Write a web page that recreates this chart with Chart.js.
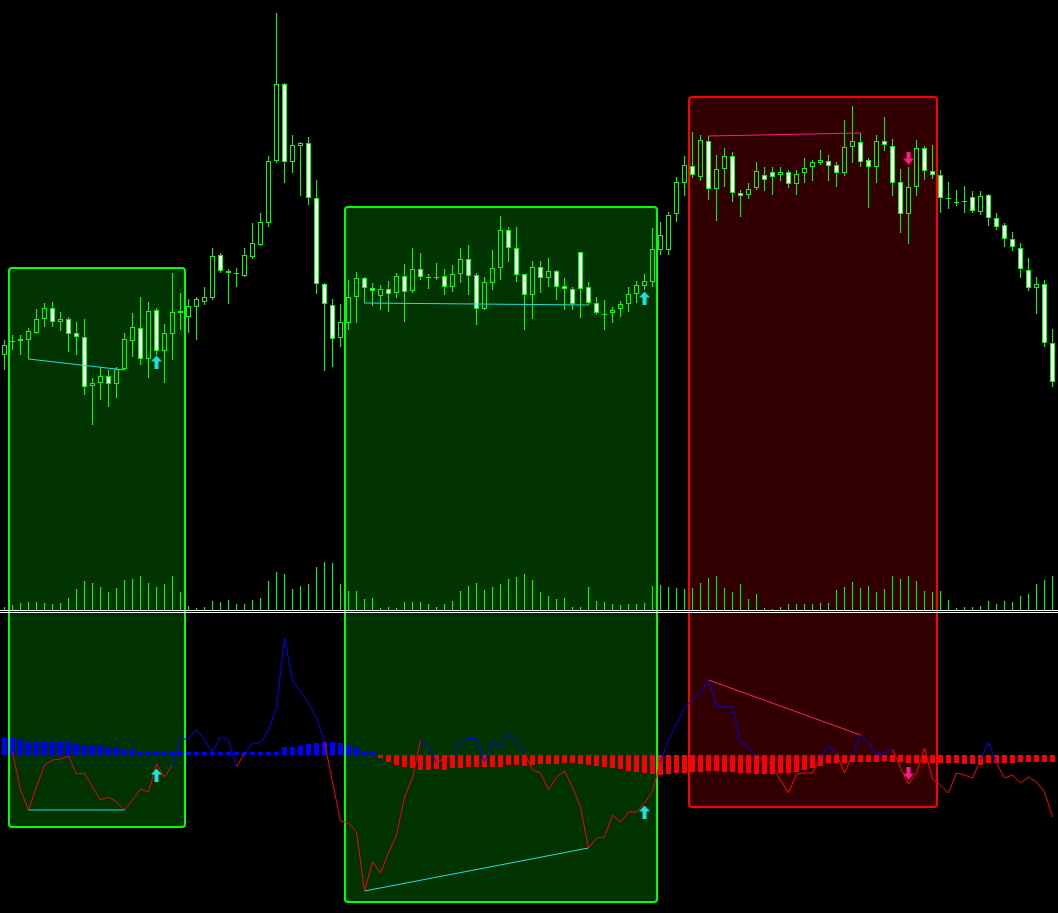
<!DOCTYPE html>
<html>
<head>
<meta charset="utf-8">
<script src="https://cdn.jsdelivr.net/npm/chart.js@4.4.0/dist/chart.umd.min.js"></script>
<style>
  html, body { margin: 0; padding: 0; background: #000; overflow: hidden; }
  #wrap { width: 1058px; height: 913px; }
</style>
</head>
<body>
<div id="wrap"><canvas id="chart" width="1058" height="913"></canvas></div>
<script>
// candles (price in points)
const open = [645,658,659,660,667,681,692,678,681,667, 663,614,617,624,616,631,659,672,641,690,
  649,666,687,683,693,698,702,745,729,727, 724,743,755,777,839,916,838,854,857,802,
  716,695,662,677,703,722,712,704,711,707, 724,709,731,723,723,724,713,726,741,725,
  691,717,732,770,752,726,705,733,722,729, 714,711,748,713,697,686,687,691,696,706,
  714,718,750,750,786,817,834,823,859,811, 831,844,807,805,812,825,828,825,828,816,
  827,833,837,839,835,827,853,858,840,833, 859,854,818,786,813,852,829,825,802,798,
  799,803,788,805,782,775,761,752,730,712, 716,657];
const high = [660,665,665,672,691,697,698,688,683,678, 681,622,633,630,633,667,687,703,698,692,
  676,727,707,701,703,713,752,747,731,732, 752,777,787,844,987,917,865,858,863,820,
  717,701,696,720,728,723,717,715,719,727, 736,752,747,726,737,731,735,752,755,727,
  723,750,784,773,773,726,739,739,742,730, 722,713,748,718,703,700,693,699,713,719,
  726,772,778,788,823,844,868,865,864,845, 852,848,810,817,838,833,833,833,830,830,
  842,840,850,845,838,880,894,867,842,865, 883,861,831,833,860,854,855,830,818,810,
  814,809,809,806,787,777,768,757,742,723, 720,671];
const low = [630,650,645,641,666,673,673,669,648,645, 605,575,600,593,602,630,643,635,622,645,
  617,640,670,667,660,695,700,727,696,713, 723,741,754,773,837,817,827,804,795,706,
  629,633,653,670,677,697,694,690,688,702, 678,707,720,711,720,705,708,717,705,675,
  690,710,720,738,718,670,681,707,713,700, 690,690,682,695,685,670,677,683,688,697,
  710,713,745,745,778,804,822,819,800,779, 813,798,783,801,810,809,805,819,812,805,
  817,819,835,819,813,824,837,833,792,817, 849,804,767,756,804,820,821,787,791,794,
  787,787,785,774,770,753,749,722,709,686, 653,613];
const close = [655,659,661,669,681,692,678,681,666,663, 613,617,624,616,631,661,673,641,689,649,
  667,688,689,694,701,703,744,729,727,726.5, 745,757,778,839,916,838,855,857,802,716,
  696,661,678,703,722,712,709,711,706,724, 708,731,723,722.5,722.5,713,726,741,724,691,
  718,732,770,752,725,705,733,722,729,713, 711,696,711,697,687,685.5,690,696,706,715,
  719,751,765,785,818,835,825,860,811,831, 844,807,804,811,829,820,823,828,816,826,
  832,838,840,834,827,853,859,838,833,859, 855,817,786,813,852,829,825,802,801.5,797.5,
  798.5,789,804,782,773,761,753,731,712,716, 657,618];

const volume = [3,5,7,8,8,7,6,7,12,21, 29,27,23,18,22,30,31,34,27,23, 26,34,18,4,2,3,9,8,10,6,
  6,10,12,29,38,36,21,24,26,43, 48,47,26,19,19,11,12,2,3,2, 8,8,8,6,3,6,9,19,24,27,
  20,23,26,31,33,36,30,18,14,11, 12,3,3,23,9,8,6,5,6,6, 7,24,25,23,22,21,22,27,32,34,
  22,18,26,11,16,2,1,3,6,6, 6,6,7,7,20,23,28,22,24,18, 21,34,31,34,29,19,18,19,10,2,
  3,3,4,9,6,9,8,14,16,26, 30,34];

// oscillator line and its histogram
const osc = [null,3,-35,-55,-32,-10,-5,-4,-1,-19, -18,-32,-45,-42,-47,-55,-45,-34,-37,-9,
  -22,-10,16,16,26,15,3,18,15,-12, 2,12,12,25,47,117,75,63,52,37,
  13,-27,-66,-68,-77,-136,-107,-118,-98,-80, -42,-23,15,8,-8,-3,0,12,17,16,
  -7,13,8,22,12,2,-15,-18,-35,-22, -16,-32,-52,-93,-83,-82,-60,-67,-57,-57,
  -48,-36,-7,15,31,47,55,62,75,48, 48,48,13,8,-2,-4,-12,-25,-38,-19,
  -18,-18,-2,9,2,-18,0,20,13,0, 2,6,-13,-29,-18,7,-24,-30,-38,-18,
  -20,-23,-5,13,-8,-23,-20,-28,-22,-27, -37,-62];
const hist = [17,17,16,14,14,14,14,14,14,12, 10,10,9,8,8,6,5,3,3,3, 3,3,3,3,3,3,3,3,3,3,
  3,3,3,3,3,8,8,9,11,12, 13,13,12,10,8,4,3,-3,-7,-10, -12,-13,-15,-15,-14,-15,-13,-13,-12,-12,
  -12,-12,-12,-10,-10,-11,-10,-9,-9,-9, -8,-8,-9,-10,-11,-12,-13,-14,-16,-17,
  -18,-19,-20,-19,-18,-18,-17,-17,-16,-16, -17,-17,-18,-18,-19,-19,-19,-18,-18,-17,
  -15,-13,-11,-8,-8,-8,-7,-7,-7,-7, -6,-7,-7,-8,-8,-8,-8,-8,-8,-8,
  -9,-9,-10,-8,-8,-8,-8,-7,-7,-7, -7,-7];

// divergence zones
const boxFrom = [0.5, 42.5, 85.5];
const boxTo = [22.5, 81.5, 116.5];
const boxTop = [732, 793, 903];
const boxBottom = [-72, -147, -52];
const boxSide = ["buy", "buy", "sell"];

// divergence lines: price + oscillator
const divFrom = [3, 45, 88];
const divTo = [15, 73, 107];
const divPriceFrom = [641, 697, 864];
const divPriceTo = [630, 695, 867];
const divOscFrom = [-55, -136, 75];
const divOscTo = [-55, -93, 20];
const divSide = ["buy", "buy", "sell"];

// signal arrows
const upIdx = [19, 80];
const upPrice = [638, 702];
const upOsc = [-20, -57];
const downIdx = [113];
const downPrice = [842];
const downOsc = [-18];

const LIME = "#00ff00";
const BUY_COLOR = "#1fe0e0";
const SELL_COLOR = "#ff1a8c";

const labels = open.map((_, i) => i);
const isDoji = (i) => Math.abs(open[i] - close[i]) < 1;
const bodies = open.map((o, i) => (isDoji(i) ? [o, o - 1] : [o, close[i]]));
const upperWicks = open.map((o, i) => [Math.max(o, close[i]), high[i]]);
const lowerWicks = open.map((o, i) => [low[i], Math.min(o, close[i])]);
const bodyFill = open.map((o, i) => {
  if (isDoji(i)) return LIME;
  return close[i] < o ? "#ffffff" : "rgba(0,0,0,0)";
});

function makeArrow(color, down) {
  const c = document.createElement("canvas");
  c.width = 11;
  c.height = 13;
  const g = c.getContext("2d");
  const pts = [[5.5, 0], [11, 6], [7.5, 6], [7.5, 13], [3.5, 13], [3.5, 6], [0, 6]];
  g.fillStyle = color;
  g.beginPath();
  pts.forEach(([px, py], k) => {
    const yy = down ? 13 - py : py;
    if (k) g.lineTo(px, yy); else g.moveTo(px, yy);
  });
  g.closePath();
  g.fill();
  return c;
}
const upArrow = makeArrow(BUY_COLOR, false);
const downArrow = makeArrow(SELL_COLOR, true);

const panelPlugin = {
  id: "panels",
  beforeDatasetsDraw(chart) {
    const { ctx, scales } = chart;
    ctx.save();
    boxFrom.forEach((from, i) => {
      const left = Math.round(scales.x.getPixelForValue(from));
      const right = Math.round(scales.x.getPixelForValue(boxTo[i]));
      const top = Math.round(scales.yP.getPixelForValue(boxTop[i]));
      const bottom = Math.round(scales.yO.getPixelForValue(boxBottom[i]));
      const sell = boxSide[i] === "sell";
      ctx.beginPath();
      ctx.roundRect(left, top, right - left, bottom - top, 3);
      ctx.fillStyle = sell ? "#330000" : "#003300";
      ctx.fill();
      ctx.lineWidth = 2;
      ctx.strokeStyle = sell ? "#ff0000" : LIME;
      ctx.stroke();
    });
    const base = Math.round(scales.yV.getPixelForValue(0));
    ctx.fillStyle = "#ffffff";
    ctx.fillRect(0, base, chart.width, 1);
    ctx.fillRect(0, base + 2, chart.width, 1);
    ctx.restore();
  },
};

const divSets = [];
divFrom.forEach((from, i) => {
  const color = divSide[i] === "sell" ? SELL_COLOR : BUY_COLOR;
  divSets.push({
    type: "line", yAxisID: "yP", order: 1, borderColor: color, borderWidth: 1, pointRadius: 0,
    data: [{ x: from, y: divPriceFrom[i] }, { x: divTo[i], y: divPriceTo[i] }],
  });
  divSets.push({
    type: "line", yAxisID: "yO", order: 1, borderColor: color, borderWidth: 1, pointRadius: 0,
    data: [{ x: from, y: divOscFrom[i] }, { x: divTo[i], y: divOscTo[i] }],
  });
});

const arrowSet = (idx, vals, axis, img) => ({
  type: "line", yAxisID: axis, order: 0, showLine: false, pointStyle: img, pointRadius: 6,
  data: idx.map((x, k) => ({ x, y: vals[k] })),
});

const barBase = { type: "bar", grouped: false, inflateAmount: 0, borderWidth: 0 };

new Chart(document.getElementById("chart"), {
  data: {
    labels,
    datasets: [
      arrowSet(upIdx, upPrice, "yP", upArrow),
      arrowSet(upIdx, upOsc, "yO", upArrow),
      arrowSet(downIdx, downPrice, "yP", downArrow),
      arrowSet(downIdx, downOsc, "yO", downArrow),
      ...divSets,
      {
        type: "line", yAxisID: "yO", order: 2, data: osc, borderWidth: 1, pointRadius: 0,
        borderColor: "#0000ff",
        segment: {
          borderColor: (c) => ((c.p0.parsed.y + c.p1.parsed.y) / 2 >= 0 ? "#0000ff" : "#ff0000"),
        },
      },
      { ...barBase, yAxisID: "yP", order: 3, data: bodies, barThickness: 5,
        backgroundColor: bodyFill, borderColor: LIME, borderWidth: 1, borderSkipped: false },
      { ...barBase, yAxisID: "yP", order: 4, data: upperWicks, barThickness: 1, backgroundColor: LIME },
      { ...barBase, yAxisID: "yP", order: 4, data: lowerWicks, barThickness: 1, backgroundColor: LIME },
      { ...barBase, yAxisID: "yO", order: 5, data: hist, barThickness: 5,
        backgroundColor: hist.map((v) => (v > 0 ? "#0000ff" : "#ff0000")) },
      { ...barBase, yAxisID: "yV", order: 6, data: volume, barThickness: 1, backgroundColor: LIME },
    ],
  },
  options: {
    responsive: false,
    animation: false,
    events: [],
    layout: { autoPadding: false, padding: { left: 0.5, right: 1.5, top: 0, bottom: 0 } },
    plugins: { legend: { display: false }, tooltip: { enabled: false } },
    scales: {
      x: { type: "linear", min: -0.5, max: 131.5, offset: false, display: false },
      yP: { min: 87, max: 1000, display: false },
      yV: { min: -303, max: 610, display: false },
      yO: { min: -158, max: 755, display: false },
    },
  },
  plugins: [panelPlugin],
});
</script>
</body>
</html>
